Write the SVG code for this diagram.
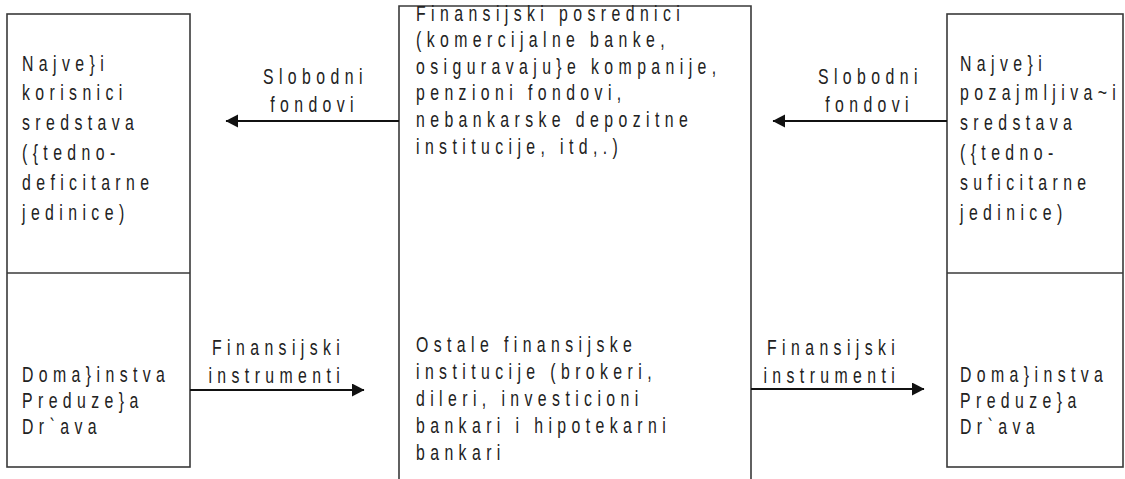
<svg xmlns="http://www.w3.org/2000/svg" width="1125" height="479" viewBox="0 0 1125 479">
<style>
.box{fill:none;stroke:#3a3a3a;stroke-width:1.6}
.conn{stroke:#111;stroke-width:2.2;fill:none}
text{font-family:"Liberation Sans",Arial,sans-serif;font-size:22px;letter-spacing:7.5px;fill:#222}
</style>
<defs>
<marker id="ah" markerUnits="userSpaceOnUse" markerWidth="14" markerHeight="14" refX="12" refY="6.5" orient="auto">
<path d="M0,0 L12.5,6.5 L0,13 Z" fill="#111"/>
</marker>
</defs>
<rect width="1125" height="479" fill="#fff"/>
<g id="left-node">
<rect class="box" x="7" y="14" width="183" height="453"/>
<line class="box" x1="7" y1="273" x2="190" y2="273"/>
<text transform="translate(22,0) scale(0.72,1)"><tspan x="0" y="71">Najve}i</tspan><tspan x="0" y="100">korisnici</tspan><tspan x="0" y="130">sredstava</tspan><tspan x="0" y="160">({tedno-</tspan><tspan x="0" y="190">deficitarne</tspan><tspan x="0" y="220">jedinice)</tspan></text>
<text transform="translate(22,0) scale(0.72,1)"><tspan x="0" y="382">Doma}instva</tspan><tspan x="0" y="408">Preduze}a</tspan><tspan x="0" y="434">Dr`ava</tspan></text>
</g>
<g id="center-node">
<path class="box" d="M399,480 V6 H751 V480"/>
<text transform="translate(416,0) scale(0.72,1)"><tspan x="0" y="21">Finansijski posrednici</tspan><tspan x="0" y="47">(komercijalne banke,</tspan><tspan x="0" y="74">osiguravaju}e kompanije,</tspan><tspan x="0" y="100">penzioni fondovi,</tspan><tspan x="0" y="127">nebankarske depozitne</tspan><tspan x="0" y="154">institucije, itd,.)</tspan></text>
<text transform="translate(416,0) scale(0.72,1)"><tspan x="0" y="352">Ostale finansijske</tspan><tspan x="0" y="379">institucije (brokeri,</tspan><tspan x="0" y="406">dileri, investicioni</tspan><tspan x="0" y="433">bankari i hipotekarni</tspan><tspan x="0" y="460">bankari</tspan></text>
</g>
<g id="right-node">
<rect class="box" x="947" y="14" width="176" height="453"/>
<line class="box" x1="947" y1="273" x2="1123" y2="273"/>
<text transform="translate(960,0) scale(0.72,1)"><tspan x="0" y="71">Najve}i</tspan><tspan x="0" y="100">pozajmljiva~i</tspan><tspan x="0" y="130">sredstava</tspan><tspan x="0" y="160">({tedno-</tspan><tspan x="0" y="190">suficitarne</tspan><tspan x="0" y="220">jedinice)</tspan></text>
<text transform="translate(960,0) scale(0.72,1)"><tspan x="0" y="382">Doma}instva</tspan><tspan x="0" y="408">Preduze}a</tspan><tspan x="0" y="434">Dr`ava</tspan></text>
</g>
<g id="connectors">
<line class="conn" x1="399" y1="121" x2="226" y2="121" marker-end="url(#ah)"/>
<line class="conn" x1="947" y1="121" x2="773" y2="121" marker-end="url(#ah)"/>
<line class="conn" x1="190" y1="390" x2="364" y2="390" marker-end="url(#ah)"/>
<line class="conn" x1="751" y1="389" x2="924" y2="389" marker-end="url(#ah)"/>
<text transform="translate(263,0) scale(0.72,1)"><tspan x="0" y="84">Slobodni</tspan><tspan x="10" y="112">fondovi</tspan></text>
<text transform="translate(818,0) scale(0.72,1)"><tspan x="0" y="84">Slobodni</tspan><tspan x="10" y="112">fondovi</tspan></text>
<text transform="translate(212,0) scale(0.72,1)"><tspan x="0" y="355">Finansijski</tspan><tspan x="-5" y="383">instrumenti</tspan></text>
<text transform="translate(767,0) scale(0.72,1)"><tspan x="0" y="355">Finansijski</tspan><tspan x="-5" y="383">instrumenti</tspan></text>
</g>
</svg>
